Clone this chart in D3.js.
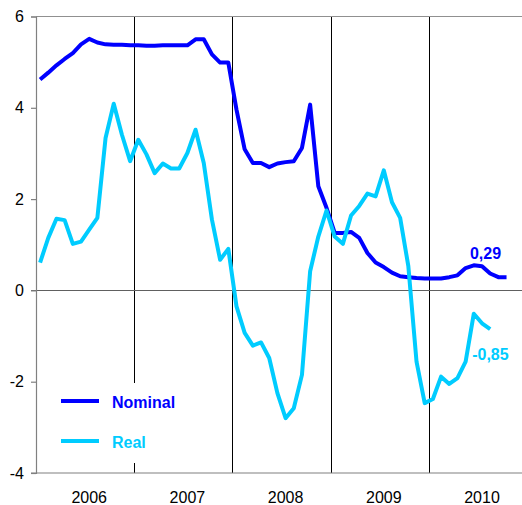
<!DOCTYPE html>
<html lang="en">
<head>
    <meta charset="UTF-8">
    <title>Nominal and real rates</title>
    <style>
        body { margin: 0; background: #fff; }
        text { font-family: "Liberation Sans", Arial, sans-serif; }
    </style>
</head>
<body>
    <svg width="522" height="505"></svg>
    <script src="https://d3js.org/d3.v7.min.js"></script>
<script>

const years = ["2006", "2007", "2008", "2009", "2010"];
const yTicks = [-4, -2, 0, 2, 4, 6];

// monthly values from Jan 2006
const nominal = [4.62, 4.77, 4.93, 5.07, 5.20, 5.39, 5.51, 5.43, 5.39, 5.38, 5.38, 5.37,
    5.37, 5.36, 5.36, 5.37, 5.37, 5.37, 5.37, 5.50, 5.50, 5.17, 4.99, 4.99,
    3.96, 3.09, 2.79, 2.79, 2.70, 2.78, 2.81, 2.83, 3.12, 4.07, 2.28, 1.81,
    1.26, 1.26, 1.28, 1.15, 0.82, 0.61, 0.51, 0.39, 0.31, 0.29, 0.27, 0.26,
    0.26, 0.26, 0.29, 0.33, 0.49, 0.55, 0.53, 0.37, 0.29, 0.29];
const real = [0.61, 1.15, 1.57, 1.54, 1.02, 1.07, 1.33, 1.59, 3.34, 4.09, 3.41, 2.83,
    3.30, 2.98, 2.57, 2.78, 2.67, 2.67, 3.01, 3.52, 2.79, 1.55, 0.67, 0.91,
    -0.35, -0.93, -1.21, -1.14, -1.48, -2.25, -2.80, -2.58, -1.85, 0.42, 1.18, 1.75,
    1.18, 1.02, 1.64, 1.85, 2.12, 2.06, 2.63, 1.93, 1.59, 0.53, -1.56, -2.47,
    -2.38, -1.89, -2.05, -1.92, -1.56, -0.51, -0.72, -0.85];

const seriesNames = ["Nominal", "Real"];
const seriesColors = ["#0000ff", "#00ccff"];
const endLabels = ["0,29", "-0,85"];

const svg = d3.select("svg");
const plotLeft = 36, plotTop = 16.5, plotBottom = 473;
const monthW = 98.2 / 12;

// one band per month, 2006-01 .. 2010-12
const months = [];
years.forEach(yr => d3.range(12).forEach(m => months.push(yr + "-" + (m + 1))));

const x = d3.scaleBand()
    .domain(months)
    .range([plotLeft, plotLeft + monthW * months.length]);

const y = d3.scaleLinear()
    .domain([-4, 6])
    .range([plotBottom, plotTop]);

const cx = i => x(months[i]) + x.bandwidth() / 2;

// year separators
svg.selectAll(".year-line")
    .data(years.slice(1))
    .enter()
    .append("line")
    .attr("x1", d => Math.round(x(d + "-1")) + 0.5)
    .attr("x2", d => Math.round(x(d + "-1")) + 0.5)
    .attr("y1", plotTop)
    .attr("y2", plotBottom)
    .attr("stroke", "#000")
    .attr("stroke-width", 1);

// zero line
svg.append("line")
    .attr("x1", plotLeft - 5)
    .attr("x2", 522)
    .attr("y1", Math.round(y(0)) + 0.5)
    .attr("y2", Math.round(y(0)) + 0.5)
    .attr("stroke", "#606060")
    .attr("stroke-width", 1.2);

// top border
svg.append("line")
    .attr("x1", plotLeft)
    .attr("x2", 522)
    .attr("y1", plotTop)
    .attr("y2", plotTop)
    .attr("stroke", "#909090")
    .attr("stroke-width", 1.2);

// y axis
const yAxis = svg.append("g")
    .attr("transform", `translate(${plotLeft},0)`)
    .call(d3.axisLeft(y).tickValues(yTicks).tickSize(5).tickPadding(7).tickFormat(d3.format("d")));
yAxis.select(".domain").attr("stroke", "#808080").attr("stroke-width", 1.2);
yAxis.selectAll(".tick line").attr("stroke", "#808080").attr("stroke-width", 1.2);
yAxis.selectAll(".tick text")
    .attr("font-size", 16)
    .attr("font-family", "Liberation Sans, Arial, sans-serif")
    .attr("fill", "#000")
    .text(d => d < 0 ? "-" + Math.abs(d) : d);

// x axis line
svg.append("line")
    .attr("x1", plotLeft - 5)
    .attr("x2", 522)
    .attr("y1", plotBottom)
    .attr("y2", plotBottom)
    .attr("stroke", "#808080")
    .attr("stroke-width", 1.2);

// year labels, centred on July
svg.selectAll(".year-label")
    .data(years)
    .enter()
    .append("text")
    .attr("x", d => x(d + "-7") + x.bandwidth() / 2)
    .attr("y", 503)
    .attr("text-anchor", "middle")
    .attr("font-size", 16)
    .attr("fill", "#000")
    .text(d => d);

// legend box hides the separator behind it
svg.append("rect")
    .attr("x", 50)
    .attr("y", 383)
    .attr("width", 135)
    .attr("height", 80)
    .attr("fill", "#fff");

const line = d3.line()
    .x((d, i) => cx(i))
    .y(d => y(d));

[nominal, real].forEach((data, k) => {
    svg.append("path")
        .datum(data)
        .attr("d", line)
        .attr("fill", "none")
        .attr("stroke", seriesColors[k])
        .attr("stroke-width", 4)
        .attr("stroke-linejoin", "round");
});

// end value labels
svg.append("text")
    .attr("x", cx(nominal.length - 1) - 21)
    .attr("y", y(nominal[nominal.length - 1]) - 18)
    .attr("text-anchor", "middle")
    .attr("font-size", 16)
    .attr("font-weight", "bold")
    .attr("fill", seriesColors[0])
    .text(endLabels[0]);

svg.append("text")
    .attr("x", cx(real.length - 1) - 18)
    .attr("y", y(real[real.length - 1]) + 31)
    .attr("font-size", 16)
    .attr("font-weight", "bold")
    .attr("fill", seriesColors[1])
    .text(endLabels[1]);

// legend
seriesNames.forEach((name, k) => {
    const ly = 401 + k * 40;
    svg.append("line")
        .attr("x1", 61)
        .attr("x2", 99)
        .attr("y1", ly)
        .attr("y2", ly)
        .attr("stroke", seriesColors[k])
        .attr("stroke-width", 4);
    svg.append("text")
        .attr("x", 112)
        .attr("y", ly + 7)
        .attr("font-size", 16)
        .attr("font-weight", "bold")
        .attr("fill", seriesColors[k])
        .text(name);
});

</script>
</body>
</html>
